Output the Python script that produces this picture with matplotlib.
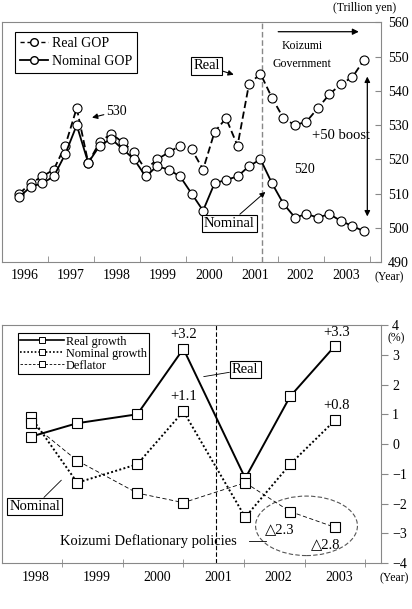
import numpy as np
import matplotlib
matplotlib.use('Agg')
import matplotlib.pyplot as plt
from matplotlib.lines import Line2D
from matplotlib.patches import Ellipse

plt.rcParams['font.family'] = ['Liberation Serif', 'DejaVu Serif']

# --- Datos: GOP trimestral (billones de yenes) ---
trimestres = [f'{a}Q{q}' for a in range(1996, 2004) for q in range(1, 5)][:31]
real_gop = [510, 513, 515, 517, 524, 535, 519, 525, 527.5, 525, 522, 517, 520, 522, 524, 523,
            517, 528, 532, 524, 542, 545, 538, 532, 530, 531, 535, 539, 542, 544, 549]
nominal_gop = [509, 512, 513, 515, 521.5, 530, 519, 524, 526, 523, 520, 515, 518, 517, 515, 510,
               505, 513, 514, 515, 518, 520, 513, 507, 503, 504, 503, 504, 502, 500.5, 499]
anios_gop = ['1996', '1997', '1998', '1999', '2000', '2001', '2002', '2003']

# --- Datos: crecimiento (%) ---
x_crec = [1997.92, 1998.68, 1999.67, 2000.43, 2001.45, 2002.19, 2002.93]
real_crec = [0.25, 0.7, 1.0, 3.2, -1.15, 1.6, 3.3]
nominal_crec = [0.9, -1.3, -0.68, 1.1, -2.46, -0.68, 0.8]
deflactor = [0.7, -0.56, -1.65, -1.97, -1.3, -2.27, -2.8]
anios_crec = [1998, 1999, 2000, 2001, 2002, 2003]

fig = plt.figure(figsize=(4.12, 6.09), dpi=100)
gris = '#888888'

# ================= Panel superior =================
ax1 = fig.add_axes([0.005, 0.5698, 0.920, 0.3933])
x = np.arange(len(trimestres))
ax1.plot(x, real_gop, linestyle=(0, (4, 2)), color='black', lw=1.3, marker='o',
         markersize=6.5, markerfacecolor='white', markeredgecolor='black', markeredgewidth=0.8, zorder=3)
ax1.plot(x, nominal_gop, linestyle='-', color='black', lw=1.3, marker='o',
         markersize=6.5, markerfacecolor='white', markeredgecolor='black', markeredgewidth=0.8, zorder=3)
ax1.set_xlim(-1.5, 31.5)
ax1.set_ylim(490, 560)
ax1.axvline(21.1, color=gris, linestyle=(0, (4, 2)), lw=1)

ax1.set_xticks([4 * i + 0.5 for i in range(len(anios_gop))])
ax1.set_xticklabels(anios_gop, fontsize=10)
ax1.set_xticks([4 * i + 2.5 for i in range(len(anios_gop))], minor=True)
ax1.tick_params(axis='x', which='major', length=0, pad=5)
ax1.tick_params(axis='x', which='minor', direction='in', length=4, color=gris)
ax1.yaxis.tick_right()
ax1.set_yticks(np.arange(490, 561, 10))
ax1.tick_params(axis='y', direction='in', length=4, color=gris, labelsize=10, pad=5)
for s in ax1.spines.values():
    s.set_color(gris)

h1 = [Line2D([], [], linestyle=(0, (3, 2)), color='black', marker='o', markersize=5.5,
             markerfacecolor='white', lw=1),
      Line2D([], [], linestyle='-', color='black', marker='o', markersize=5.5,
             markerfacecolor='white', lw=1.3)]
leg1 = ax1.legend(h1, ['Real GOP', 'Nominal GOP'], loc='upper left', bbox_to_anchor=(0.034, 0.96),
                  borderaxespad=0, fontsize=10, handlelength=2.0, fancybox=False, edgecolor='black',
                  framealpha=1, labelspacing=0.35, borderpad=0.35, handletextpad=0.3)
leg1.get_frame().set_linewidth(0.8)

ax1.text(1.04, 1.06, '(Trillion yen)', transform=ax1.transAxes, fontsize=8.5, ha='right', va='center')
ax1.text(32.2, 485.5, '(Year)', fontsize=8.5, ha='center', va='center', clip_on=False)
ax1.annotate('', xy=(29.8, 557.3), xytext=(22.3, 557.3),
             arrowprops=dict(arrowstyle='-|>', color='black', lw=0.9, mutation_scale=9))
ax1.text(24.6, 550.5, 'Koizumi\nGovernment', fontsize=8.5, ha='center', va='center', linespacing=1.6)
ax1.annotate('Real', xy=(18.9, 544.5), xytext=(16.3, 547.3), fontsize=10.5, ha='center', va='center',
             bbox=dict(boxstyle='square,pad=0.15', fc='white', ec='black', lw=0.8),
             arrowprops=dict(arrowstyle='-|>', color='black', lw=0.8, mutation_scale=8, shrinkA=0))
ax1.annotate('530', xy=(6.1, 532.0), xytext=(7.6, 534.0), fontsize=10, ha='left', va='center',
             arrowprops=dict(arrowstyle='-|>', color='black', lw=0.8, mutation_scale=8, shrinkA=0))
ax1.text(28.0, 527.0, '+50 boost', fontsize=10.5, ha='center', va='center')
ax1.annotate('', xy=(30.3, 502.5), xytext=(30.3, 545.0),
             arrowprops=dict(arrowstyle='<|-|>', color='black', lw=0.9, mutation_scale=8))
ax1.text(24.8, 517.0, '520', fontsize=10, ha='center', va='center')
ax1.annotate('Nominal', xy=(21.6, 511.0), xytext=(18.3, 501.3), fontsize=10.5, ha='center', va='center',
             bbox=dict(boxstyle='square,pad=0.15', fc='white', ec='black', lw=0.8),
             arrowprops=dict(arrowstyle='-|>', color='black', lw=0.7, mutation_scale=8, shrinkA=0))

# ================= Panel inferior =================
ax2 = fig.add_axes([0.005, 0.0755, 0.920, 0.3908])
estilo_marca = dict(marker='s', markersize=6.5, markerfacecolor='white', markeredgecolor='black',
                    markeredgewidth=0.8)
ax2.plot(x_crec, real_crec, linestyle='-', color='black', lw=1.4, zorder=3, **estilo_marca)
ax2.plot(x_crec, nominal_crec, linestyle=(0, (1, 1.2)), color='black', lw=1.4, zorder=3, **estilo_marca)
ax2.plot(x_crec, deflactor, linestyle=(0, (5, 3)), color='black', lw=0.6, zorder=3, **estilo_marca)
ax2.set_xlim(1997.44, 2003.69)
ax2.set_ylim(-4, 4)
ax2.axvline(2000.97, color='black', linestyle=(0, (4, 2)), lw=0.8)

ax2.set_xticks(anios_crec)
ax2.set_xticklabels([str(a) for a in anios_crec], fontsize=10)
ax2.set_xticks([a + 0.43 for a in anios_crec], minor=True)
ax2.tick_params(axis='x', which='major', length=0, pad=6)
ax2.tick_params(axis='x', which='minor', direction='inout', length=6, color=gris)
ax2.yaxis.tick_right()
ax2.set_yticks(range(-4, 5))
ax2.set_yticklabels(['\u22124', '\u22123', '\u22122', '\u22121', '0', '1', '2', '3', '4'])
ax2.tick_params(axis='y', direction='out', length=5, color=gris, labelsize=10, pad=3)
for s in ax2.spines.values():
    s.set_color(gris)

marca_ley = dict(marker='s', markersize=4.5, markerfacecolor='white', markeredgecolor='black',
                 markeredgewidth=0.7)
h2 = [Line2D([], [], linestyle='-', color='black', lw=1.2, **marca_ley),
      Line2D([], [], linestyle=(0, (1, 1.2)), color='black', lw=1.2, **marca_ley),
      Line2D([], [], linestyle=(0, (3, 2)), color='black', lw=0.6, **marca_ley)]
leg2 = ax2.legend(h2, ['Real growth', 'Nominal growth', 'Deflator'], loc='upper left',
                  bbox_to_anchor=(0.042, 0.966), borderaxespad=0, fontsize=8.8, handlelength=3.6,
                  fancybox=False, edgecolor='black', framealpha=1, labelspacing=0.0, borderpad=0.2,
                  handletextpad=0.1)
leg2.get_frame().set_linewidth(0.8)

ax2.text(1.04, 3.55, '(%)', transform=ax2.get_yaxis_transform(), fontsize=8.5, ha='center', va='center',
         clip_on=False)
ax2.text(2003.9, -4.5, '(Year)', fontsize=8.5, ha='center', va='center', clip_on=False)
ax2.text(2000.43, 3.67, '+3.2', fontsize=10.5, ha='center', va='center')
ax2.text(2000.43, 1.6, '+1.1', fontsize=10.5, ha='center', va='center')
ax2.text(2002.95, 3.75, '+3.3', fontsize=10.5, ha='center', va='center')
ax2.text(2002.95, 1.3, '+0.8', fontsize=10.5, ha='center', va='center')
ax2.annotate('Real', xy=(2000.72, 2.25), xytext=(2001.45, 2.5), fontsize=10.5, ha='center', va='center',
             bbox=dict(boxstyle='square,pad=0.15', fc='white', ec='black', lw=0.8),
             arrowprops=dict(arrowstyle='-', color='black', lw=0.6, shrinkA=0))
ax2.annotate('Nominal', xy=(1998.45, -1.15), xytext=(1997.56, -2.1), fontsize=10.5, ha='left', va='center',
             bbox=dict(boxstyle='square,pad=0.15', fc='white', ec='black', lw=0.8),
             arrowprops=dict(arrowstyle='-', color='black', lw=0.6, shrinkA=0))
ax2.text(1999.85, -3.25, 'Koizumi Deflationary policies', fontsize=10.5, ha='center', va='center')
ax2.plot([2001.52, 2001.8], [-3.25, -3.25], color='black', lw=0.6)
ax2.add_patch(Ellipse((2002.46, -2.75), 1.68, 2.0, fill=False, ec='#555555', lw=0.8,
                      linestyle=(0, (4, 2))))
ax2.text(2002.02, -2.88, '\u25b32.3', fontsize=10.5, ha='center', va='center')
ax2.text(2002.78, -3.4, '\u25b32.8', fontsize=10.5, ha='center', va='center')

fig.savefig('out.png', dpi=100)
